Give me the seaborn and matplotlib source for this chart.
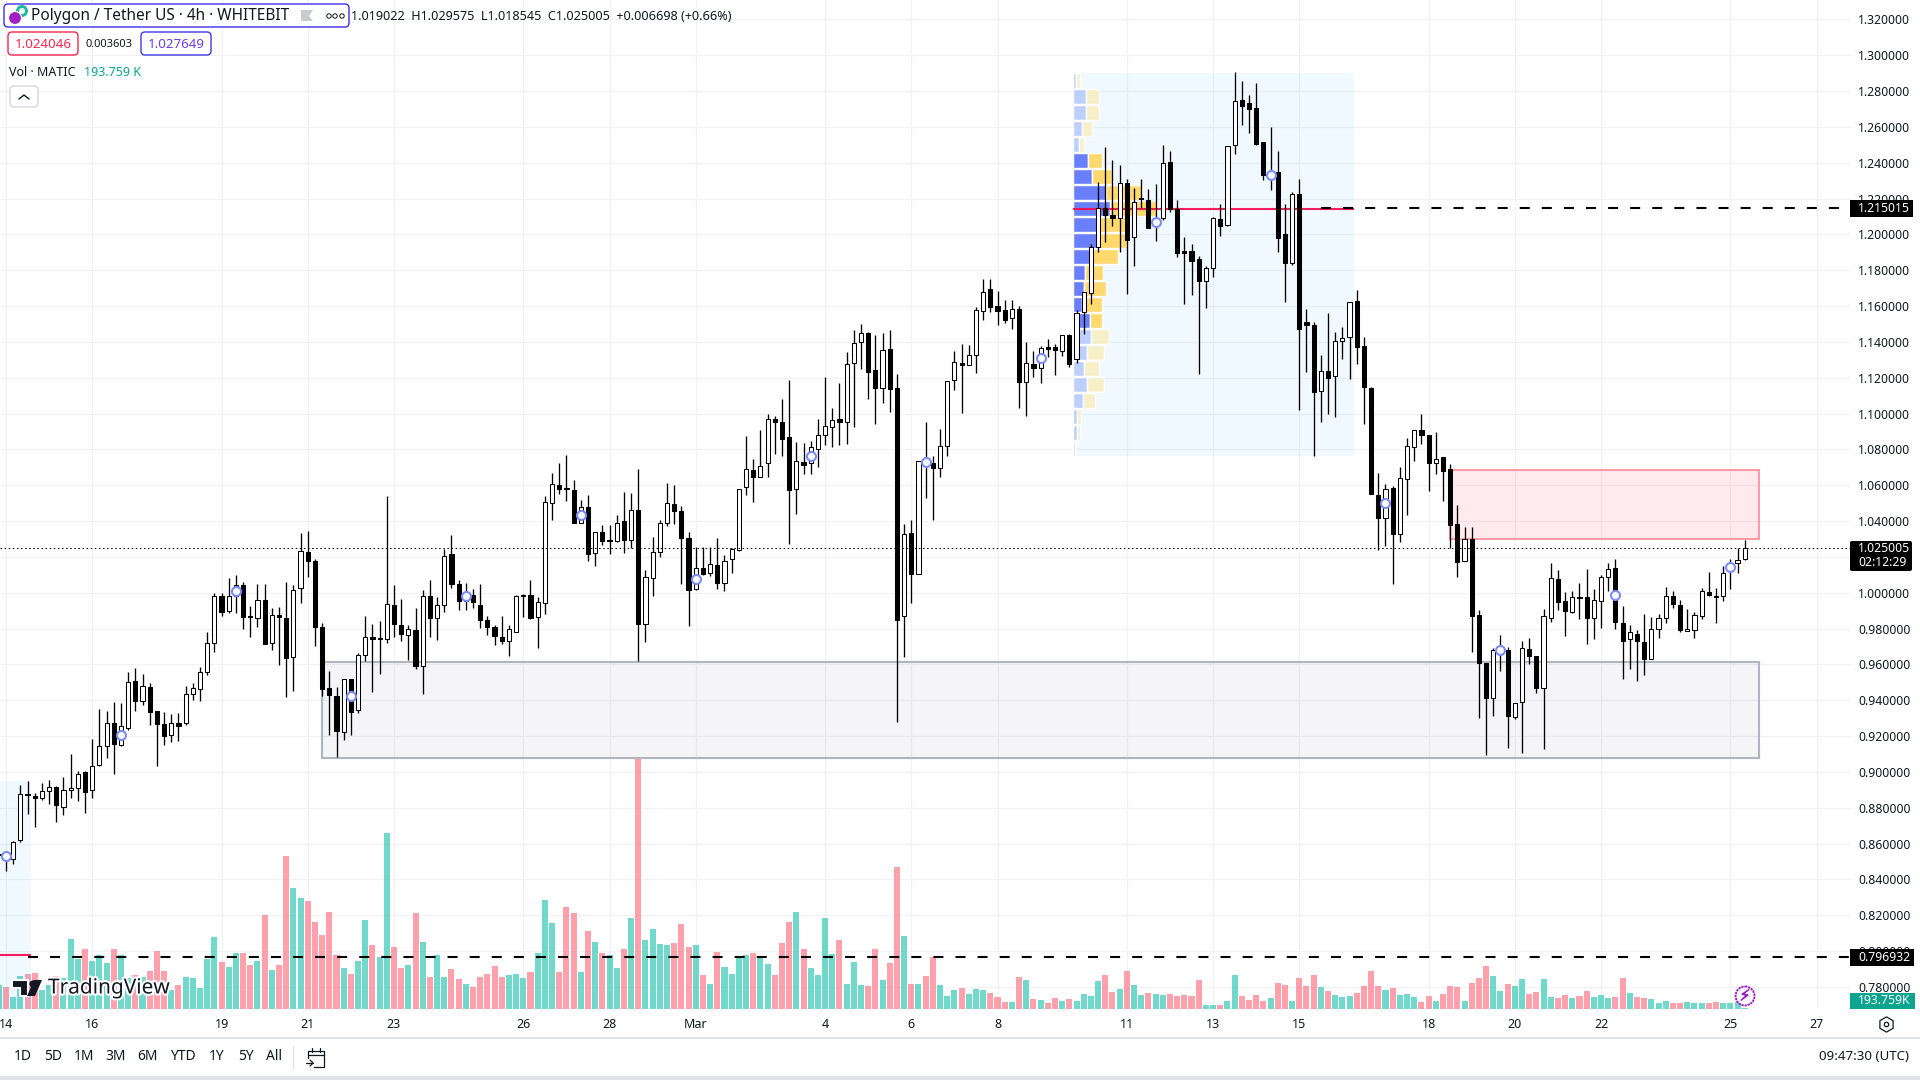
import numpy as np
import pandas as pd
import seaborn as sns
import matplotlib
matplotlib.use("Agg")
import matplotlib.pyplot as plt
from matplotlib.patches import Rectangle, FancyBboxPatch, Polygon, Circle
import matplotlib.patheffects as pe

# candles, 4h bars, bar 0 = Feb 14 00:00
bar_open = [0.8540,
    .8518,.8514,.8618,.8877,.8865,.8852,.8891,.8918,.8804,.8897,
    .8910,.8999,.8897,.9037,.9143,.9273,.9152,.9243,.9507,.9394,
    .9474,.9340,.9267,.9206,.9273,.9271,.9435,.9462,.9556,.9719,
    .9981,.9896,.9980,1.0043,.9865,.9859,.9959,.9717,.9875,.9859,
    .9639,1.0024,1.0229,1.0179,.9808,.9468,.9423,.9223,.9518,.9343,
    .9652,.9753,.9742,.9741,.9931,.9818,.9764,.9792,.9591,.9981,
    .9859,.9931,1.0216,1.0050,.9955,.9987,.9933,.9849,.9810,.9755,
    .9729,.9781,.9981,.9987,.9864,.9942,1.0500,1.0601,1.0579,1.0573,
    1.0387,1.0478,1.0220,1.0339,1.0289,1.0287,1.0400,1.0292,1.0461,.9823,
    1.0082,1.0227,1.0389,1.0495,1.0458,1.0307,1.0021,1.0138,1.0110,1.0154,
    1.0054,1.0188,1.0238,1.0590,1.0685,1.0646,1.0727,1.0969,1.0954,1.0871,
    1.0577,1.0729,1.0722,1.0805,1.0878,1.0923,1.0969,1.0956,1.1282,1.1399,
    1.1449,1.1243,1.1142,1.1360,1.1142,.9868,1.0333,1.0102,1.0733,1.0724,
    1.0696,1.0822,1.1187,1.1282,1.1271,1.1326,1.1575,1.1695,1.1602,1.1579,
    1.1531,1.1583,1.1176,1.1276,1.1257,1.1371,1.1371,1.1352,1.1438,1.1304,
    1.1570,1.1672,1.1929,1.2146,1.2109,1.2094,1.2286,1.1984,1.2197,1.2191,
    1.2050,1.2090,1.2403,1.2141,1.1906,1.1906,1.1862,1.1739,1.1812,1.2085,
    1.2055,1.2498,1.2749,1.2732,1.2704,1.2515,1.2328,1.2347,1.2001,1.1838,
    1.2224,1.1512,1.1494,1.1125,1.1237,1.1209,1.1408,1.1425,1.1627,1.1378,
    1.1142,1.0547,1.0415,1.0586,1.0326,1.0634,1.0813,1.0908,1.0880,1.0727,
    1.0757,1.0690,1.0383,1.0175,1.0300,.9877,.9610,.9410,.9670,.9680,
    .9305,.9390,.9686,.9647,.9466,.9857,1.0077,.9954,.9894,.9974,
    .9976,.9859,.9954,1.0087,1.0138,.9831,.9741,.9771,.9727,.9630,
    .9797,.9859,.9981,.9931,.9786,.9792,.9870,1.0004,.9981,.9981,
    1.0125,1.0164,1.019022]
bar_close = [0.8535,
    .8542,.8609,.8877,.8869,.8852,.8893,.8916,.8813,.8899,.8910,
    .8988,.8886,.9033,.9144,.9273,.9154,.9254,.9502,.9394,.9479,
    .9332,.9265,.9198,.9273,.9254,.9435,.9466,.9557,.9719,.9981,
    .9890,.9981,1.0043,.9862,.9862,.9959,.9712,.9875,.9862,.9634,
    1.0015,1.0233,1.0175,.9807,.9464,.9427,.9226,.9518,.9332,.9652,
    .9753,.9741,.9740,.9937,.9823,.9769,.9795,.9589,.9981,.9857,
    .9930,1.0205,1.0047,.9952,1.0002,.9946,.9846,.9807,.9756,.9729,
    .9797,.9981,.9980,.9861,.9948,1.0506,1.0606,1.0577,1.0578,1.0387,
    1.0478,1.0218,1.0337,1.0287,1.0288,1.0389,1.0292,1.0461,.9823,1.0088,
    1.0227,1.0389,1.0500,1.0454,1.0303,1.0013,1.0138,1.0104,1.0160,1.0052,
    1.0180,1.0244,1.0582,1.0690,1.0644,1.0707,1.0969,1.0954,1.0859,1.0575,
    1.0735,1.0711,1.0815,1.0880,1.0930,1.0964,1.0954,1.1276,1.1393,1.1449,
    1.1235,1.1142,1.1354,1.1135,.9849,1.0327,1.0106,1.0735,1.0735,1.0694,
    1.0818,1.1181,1.1287,1.1269,1.1326,1.1577,1.1680,1.1594,1.1574,1.1523,
    1.1583,1.1174,1.1282,1.1252,1.1365,1.1362,1.1356,1.1438,1.1278,1.1560,
    1.1678,1.1929,1.2146,1.2111,1.2094,1.2286,1.1971,1.2180,1.2196,1.2038,
    1.2085,1.2397,1.2141,1.1899,1.1899,1.1854,1.1743,1.1812,1.2091,1.2050,
    1.2492,1.2743,1.2719,1.2702,1.2507,1.2334,1.2350,1.1983,1.1838,1.2224,
    1.1471,1.1497,1.1123,1.1237,1.1201,1.1404,1.1421,1.1622,1.1374,1.1146,
    1.0553,1.0420,1.0580,1.0326,1.0640,1.0818,1.0908,1.0882,1.0727,1.0746,
    1.0677,1.0379,1.0169,1.0300,.9872,.9610,.9414,.9680,.9691,.9314,
    .9384,.9691,.9649,.9470,.9870,1.0082,.9950,.9896,.9976,.9973,
    .9857,.9959,1.0087,1.0132,.9835,.9732,.9780,.9729,.9628,.9797,
    .9857,.9981,.9937,.9790,.9800,.9875,1.0009,.9985,.9974,1.0110,
    1.0150,1.0182,1.025005]
bar_high = [0.8560,
    .8552,.8614,.8929,.8951,.8884,.8940,.8957,.8923,.8973,.9102,
    .9005,.9007,.9185,.9353,.9342,.9392,.9386,.9557,.9580,.9548,
    .9498,.9340,.9336,.9325,.9330,.9481,.9498,.9587,.9783,.9998,
    .9998,1.0084,1.0101,1.0060,.9928,1.0050,1.0050,.9916,.9922,1.0061,
    1.0045,1.0335,1.0346,1.0190,.9831,.9565,.9474,.9518,.9518,.9663,
    .9872,.9827,.9844,1.0541,1.0045,.9967,.9821,.9916,1.0017,1.0073,
    .9978,1.0246,1.0324,1.0073,1.0056,1.0022,1.0050,.9868,.9822,.9872,
    .9822,.9989,.9995,1.0073,.9976,1.0541,1.0670,1.0725,1.0770,1.0629,
    1.0519,1.0545,1.0337,1.0380,1.0380,1.0435,1.0564,1.0558,1.0692,1.0128,
    1.0310,1.0404,1.0614,1.0603,1.0486,1.0340,1.0257,1.0257,1.0257,1.0307,
    1.0212,1.0251,1.0582,1.0876,1.0748,1.0910,1.0997,1.0988,1.1083,1.1189,
    1.0841,1.0835,1.0848,1.0971,1.1205,1.1032,1.1172,1.1345,1.1468,1.1501,
    1.1455,1.1440,1.1449,1.1468,1.1220,1.0385,1.0407,1.0735,1.0954,1.0765,
    1.0915,1.1181,1.1350,1.1390,1.1382,1.1594,1.1752,1.1752,1.1683,1.1633,
    1.1635,1.1598,1.1401,1.1350,1.1378,1.1417,1.1390,1.1438,1.1445,1.1579,
    1.1678,1.1947,1.2293,1.2489,1.2416,1.2388,1.2310,1.2260,1.2310,1.2254,
    1.2282,1.2500,1.2466,1.2193,1.1986,1.1947,1.1880,1.1825,1.2098,1.2170,
    1.2492,1.2905,1.2855,1.2779,1.2846,1.2515,1.2600,1.2466,1.2170,1.2237,
    1.2310,1.1585,1.1512,1.1328,1.1562,1.1456,1.1484,1.1622,1.1691,1.1428,
    1.1146,1.0668,1.0608,1.0597,1.0703,1.0865,1.0908,1.0999,1.0882,1.0898,
    1.0757,1.0720,1.0491,1.0368,1.0368,.9905,.9610,.9691,.9766,.9697,
    .9384,.9732,.9749,.9647,.9911,1.0167,1.0128,1.0006,1.0011,1.0056,
    1.0134,1.0022,1.0100,1.0167,1.0190,.9928,.9821,.9794,.9883,.9866,
    .9883,1.0033,1.0011,.9961,.9911,.9894,1.0028,1.0117,1.0028,1.0149,
    1.0190,1.0249,1.029575]
bar_low = [0.8530,
    .8445,.8488,.8607,.8767,.8694,.8841,.8823,.8722,.8761,.8856,
    .8839,.8772,.8856,.9031,.9079,.8990,.9146,.9236,.9342,.9371,
    .9263,.9035,.9152,.9169,.9174,.9263,.9403,.9397,.9543,.9671,
    .9868,.9888,.9888,.9799,.9755,.9810,.9712,.9682,.9598,.9420,
    .9453,.9944,1.0089,.9704,.9425,.9208,.9085,.9180,.9208,.9327,
    .9621,.9448,.9548,.9721,.9755,.9730,.9626,.9576,.9436,.9755,
    .9738,.9894,1.0028,.9905,.9905,.9916,.9803,.9762,.9706,.9714,
    .9645,.9781,.9864,.9855,.9690,.9883,1.0407,1.0553,1.0513,1.0387,
    1.0387,1.0179,1.0151,1.0268,1.0218,1.0281,1.0223,1.0249,.9620,.9723,
    .9980,1.0197,1.0374,1.0385,1.0050,.9816,1.0013,1.0099,1.0091,1.0022,
    1.0011,1.0112,1.0233,1.0547,1.0508,1.0646,1.0644,1.0774,1.0765,1.0274,
    1.0441,1.0664,1.0664,1.0703,1.0826,1.0815,1.0824,1.0832,1.0926,1.1250,
    1.1083,1.0943,1.1060,1.1010,.9280,.9643,.9944,1.0102,1.0530,1.0407,
    1.0647,1.0765,1.1133,1.1004,1.1271,1.1228,1.1520,1.1568,1.1495,1.1507,
    1.1473,1.1032,1.0988,1.1205,1.1172,1.1317,1.1217,1.1323,1.1263,1.1285,
    1.1447,1.1613,1.1903,1.1958,1.2048,1.1903,1.1668,1.1825,1.2146,1.2038,
    1.1964,1.2081,1.2128,1.1877,1.1613,1.1663,1.1222,1.1590,1.1763,1.1992,
    1.2050,1.2449,1.2611,1.2567,1.2502,1.2304,1.2249,1.1903,1.1624,1.1830,
    1.1021,1.1233,1.0764,1.0954,1.0999,1.0982,1.1306,1.1194,1.1278,1.0943,
    1.0553,1.0240,1.0262,1.0050,1.0285,1.0435,1.0737,1.0831,1.0569,1.0664,
    1.0513,1.0249,1.0089,1.0175,.9671,.9303,.9096,.9314,.9565,.9135,
    .9297,.9107,.9604,.9442,.9130,.9838,.9905,.9760,.9888,.9855,
    .9715,.9743,.9805,1.0011,.9799,.9520,.9576,.9509,.9543,.9630,
    .9749,.9833,.9916,.9782,.9786,.9749,.9855,.9980,.9833,.9955,
    1.0022,1.0112,1.018545]
# volume in millions of MATIC, same bars as above
volume = [3.60,
    3.30,1.80,4.95,5.25,5.40,2.85,3.60,4.95,4.65,10.50,
    7.50,9.00,7.20,8.10,6.90,9.00,8.10,4.65,5.10,4.80,
    5.70,8.70,5.70,2.85,3.60,4.80,4.65,3.15,7.50,10.80,
    7.05,6.30,8.40,8.40,6.60,7.20,14.10,5.85,6.60,22.95,
    18.15,16.65,16.20,13.05,11.10,14.55,8.10,6.15,5.25,7.20,
    13.35,9.60,7.80,26.40,9.30,6.15,6.60,14.40,10.05,4.80,
    8.10,4.80,6.00,4.50,3.75,3.30,4.80,5.25,6.45,4.80,
    5.10,5.25,4.65,5.55,8.40,16.35,12.90,5.55,15.30,14.40,
    5.55,11.70,10.05,8.40,8.10,6.15,9.00,13.65,37.65,10.35,
    12.00,9.75,9.60,9.90,12.75,9.30,9.60,5.10,3.75,8.55,
    6.30,5.25,7.80,8.10,8.40,7.80,6.75,5.10,9.90,13.05,
    14.55,9.00,6.15,5.10,13.65,8.25,10.35,3.75,7.05,3.60,
    3.45,9.00,4.35,6.90,21.30,10.95,3.75,3.75,4.95,7.80,
    3.60,1.95,2.85,3.15,2.25,3.00,2.85,2.40,1.80,1.05,
    1.05,4.80,4.35,1.50,1.35,0.90,1.65,1.20,1.50,1.20,
    2.25,1.95,4.20,5.10,2.55,3.00,5.70,3.60,2.10,2.40,
    2.25,2.10,2.25,1.95,2.10,1.95,4.35,0.60,0.60,0.60,
    1.20,5.10,1.95,1.35,2.10,1.20,1.65,3.90,3.60,1.20,
    4.65,3.45,5.10,3.30,2.70,2.10,1.80,1.95,2.40,3.45,
    5.70,3.45,2.85,3.15,2.10,2.25,1.80,1.05,1.95,1.20,
    2.25,3.45,3.30,1.20,3.90,4.65,6.45,4.95,2.70,3.75,
    3.45,4.50,2.25,2.55,4.50,1.80,1.65,2.10,1.65,1.95,
    2.70,1.80,2.10,1.65,1.80,4.65,2.40,1.80,1.65,1.50,
    0.90,1.20,0.90,0.90,1.05,0.90,0.90,0.90,1.05,0.90,
    0.90,1.05,0.193759]
volume_side = ("T" "RTTRRTTRTT" "TRTTTRTTRT" "RRRTRTTTTT" "RTTRRTRTRR" "TTRRRRRTRT"
               "TRTTRRTRTR" "TTRRTRRRRR" "TTTRTTTRRR" "TRTRTTRTRT" "TTTRRRTRTR"
               "TTTTRTTRRR" "TRTTTTRTTT" "RRTRRTRTRR" "TTTRTTTRRR" "TRTRTRRTRT"
               "TTTRRTRTTR" "TTRRRRRTTR" "TTRRRRTRRT" "RRRTRTTTRR" "RRTRTTTRRT"
               "RRRTRRRTTR" "TTRRTTRRTR" "RTTTRRTRRT" "TTRRTTTRRT" "TTT")

price_ticks = [1.32,1.30,1.28,1.26,1.24,1.22,1.20,1.18,1.16,1.14,1.12,1.10,1.08,1.06,
               1.04,1.02,1.00,.98,.96,.94,.92,.90,.88,.86,.84,.82,.80,.78]
date_ticks = [0,12,30,42,54,72,84,96,114,126,138,156,168,180,198,210,222,240,252]
date_labels = ["14","16","19","21","23","26","28","Mar","4","6","8","11","13","15","18","20","22","25","27"]

# markers that sit on every 16th bar
event_bar = [0,16,32,48,64,80,96,112,128,144,160,176,192,208,224,240]
event_price = [.8529,.9204,1.0009,.9422,.9980,1.0432,1.0076,1.0766,1.0729,1.1308,
               1.2068,1.2334,1.0499,.9680,.9985,1.0143]

# volume profile rows, top to bottom
vp_price = [1.2860,1.2771,1.2682,1.2592,1.2503,1.2414,1.2325,1.2235,1.2146,1.2057,1.1967,1.1878,
            1.1789,1.1700,1.1610,1.1521,1.1432,1.1342,1.1253,1.1164,1.1075,1.0985,1.0896,1.0807]
vp_up = [9,39,39,27,18,45,57,99,111,73,72,51,36,33,27,51,54,42,33,42,30,12,12,6]
vp_down = [12,39,39,30,15,42,60,108,140,85,90,84,54,66,60,36,54,51,45,51,36,12,9,3]
vp_value_area = [0,0,0,0,0,1,1,1,1,1,1,1,1,1,1,1,0,0,0,0,0,0,0,0]

sns.set_theme(style="white")
plt.rcParams['font.family'] = ['Noto Sans', 'DejaVu Sans']
text_col = "#131722"
teal, red = "#1fc4ad", "#ff6b7c"

bars = pd.DataFrame({"bar": np.arange(-1, 243), "open": bar_open, "high": bar_high, "low": bar_low,
                     "close": bar_close, "volume": volume, "side": list(volume_side)})

fig = plt.figure(figsize=(19.2, 10.8), dpi=100, facecolor="white")
pos = [0, 71/1080, 1850/1920, 1009/1080]
ax_price = fig.add_axes(pos, zorder=0)
ax_vol = fig.add_axes(pos, zorder=1)
ax = fig.add_axes(pos, zorder=2)
ui = fig.add_axes([0, 0, 1, 1], zorder=3)

xlim = (-0.835, 256.65)
ylim = (0.76766, 1.33088)

# grid and axis labels live on the bottom axes, 1.02 sits under the price tag
ax_price.set_xlim(xlim)
ax_price.set_ylim(ylim)
ax_price.yaxis.tick_right()
ax_price.set_yticks(price_ticks)
ax_price.set_yticklabels(["" if p == 1.02 else "%.6f" % p for p in price_ticks], fontsize=8.8, color=text_col)
ax_price.set_xticks(date_ticks)
ax_price.set_xticklabels(date_labels, fontsize=9, color=text_col)
ax_price.get_xticklabels()[7].set_fontweight("bold")
ax_price.tick_params(axis="both", length=0)
ax_price.tick_params(axis="y", pad=5.8)
ax_price.tick_params(axis="x", pad=6.2)
ax_price.grid(True, color="#f0f2f6", lw=0.9)
for s in ax_price.spines.values():
    s.set_visible(False)

# volume
sns.barplot(data=bars, x="bar", y="volume", hue="side", palette={"T": teal, "R": red}, native_scale=True,
            dodge=False, width=0.84, gap=0, saturation=1, errorbar=None, legend=False, alpha=0.63,
            linewidth=0, ax=ax_vol)
ax_vol.set_xlim(xlim)
ax_vol.set_ylim(0, 151.35)
ax_vol.axis("off")

ax.set_xlim(xlim)
ax.set_ylim(ylim)
ax.axis("off")

# zones
ax.add_patch(Rectangle((44, 0.9079), 200, 0.9615-0.9079, fc=(0.47, 0.48, 0.62, 0.07), ec="#b2b5be", lw=1.5, zorder=1))
ax.add_patch(Rectangle((201, 1.0301), 43, 1.0686-1.0301, fc=(1.0, 0.2, 0.32, 0.10), ec="#ff9aa6", lw=1.5, zorder=1))
ax.add_patch(Rectangle((148.5, 1.0764), 39.1, 1.2901-1.0764, fc=(0.16, 0.66, 1.0, 0.065), ec="none", zorder=1))
ax.add_patch(Rectangle((-1, 0.76), 4.5, 0.8951-0.76, fc=(0.16, 0.66, 1.0, 0.065), ec="none", zorder=1))

# volume profile
vp_total = np.array(vp_up) + np.array(vp_down)
vp_scale = 0.298 * 39.1 / vp_total.max()
for p, u, d, va in zip(vp_price, vp_up, vp_down, vp_value_area):
    ax.barh(p, u*vp_scale, height=0.0084, left=148.5, color="#6a7ffb" if va else "#bdd0fd", zorder=1.5)
    ax.barh(p, d*vp_scale, height=0.0084, left=148.5+u*vp_scale, color="#ffd86e" if va else "#f6efc8", zorder=1.5)

# poc lines
ax.plot([148.5, 187.6], [1.2143, 1.2143], color="#f50a4f", lw=1.5, alpha=0.92, zorder=2, solid_capstyle="butt")
ax.plot([-1, 3.5], [0.7976, 0.7976], color="#f50a4f", lw=1.5, alpha=0.92, zorder=2, solid_capstyle="butt")

# candles
ax.vlines(bars["bar"], bars["low"], bars["high"], color="black", lw=0.95, zorder=3)
body_bottom = bars[["open", "close"]].min(axis=1)
body_height = (bars["close"] - bars["open"]).abs().clip(lower=0.0006)
body_col = ["white" if c >= o else "black" for o, c in zip(bar_open, bar_close)]
ax.bar(bars["bar"], body_height, bottom=body_bottom, width=0.58, color=body_col, edgecolor="black", lw=0.75, zorder=4)

# horizontal rays and current price
ax.plot([183, xlim[1]], [1.215015]*2, color="black", lw=1.5, dashes=(4.8, 5.8), dash_capstyle="butt", zorder=5)
ax.plot([3.1, xlim[1]], [0.796932]*2, color="black", lw=1.5, dashes=(4.8, 5.8), dash_capstyle="butt", zorder=5)
ax.plot(xlim, [1.025005]*2, color="black", lw=0.72, dashes=(1.5, 2.6), dash_capstyle="butt", zorder=5)

sns.scatterplot(x=event_bar, y=event_price, ax=ax, s=42, color="white", edgecolor="#7b8cff", linewidth=1.5,
                legend=False, zorder=6)
ax.set_xlim(xlim)
ax.set_ylim(ylim)

# everything below is the screen furniture, pixel coords
ui.set_xlim(0, 1920)
ui.set_ylim(1080, 0)
ui.axis("off")


def label(x, y, s, size=8.8, color=text_col, ha="left", **kw):
    return ui.text(x, y, s, fontsize=size, color=color, ha=ha, va="center", **kw)


def pill(x0, y0, x1, y1, ec, fc="white", lw=1.0, r=4):
    ui.add_patch(FancyBboxPatch((x0+r, y0+r), x1-x0-2*r, y1-y0-2*r, boxstyle="round,pad=%d" % r,
                                fc=fc, ec=ec, lw=lw))


ui.plot([0, 1920], [1037.5, 1037.5], color="#e0e3eb", lw=1.4)
ui.add_patch(Rectangle((0, 1076), 1920, 4, fc="#e0e3eb", ec="none"))

# legend header
pill(4, 4, 349, 27, "#3a2ee8")
ui.add_patch(Circle((22, 11), 6, fc="#1fb8a0", ec="none"))
ui.add_patch(Circle((22, 11), 3, fc="white", ec="none"))
ui.add_patch(Circle((15, 18), 6.5, fc="#a21fc4", ec="white", lw=0.8))
label(31, 16.5, "Polygon / Tether US · 4h · WHITEBIT", size=11.1)
ui.add_patch(Polygon([(301, 10), (313, 10), (309, 16), (313, 21), (301, 21)], fc="#c9cbd1", ec="none"))
for cx in (329, 335, 342):
    ui.add_patch(Circle((cx, 16), 2.2, fc="white", ec=text_col, lw=0.7))
label(351, 16.5, "1.019022  H1.029575  L1.018545  C1.025005  +0.006698 (+0.66%)", size=9.1)

pill(8, 32, 78, 55, "#f7264e")
label(43, 44.5, "1.024046", size=9.6, color="#f7264e", ha="center")
label(109, 44.5, "0.003603", size=8.0, ha="center")
pill(141, 32, 211, 55, "#3f37e8")
label(176, 44.5, "1.027649", size=9.6, color="#6a3ee8", ha="center")
label(9, 72.5, "Vol · MATIC", size=9.0)
label(84, 72.5, "193.759 K", size=9.0, color="#08a68f")
pill(10, 86, 38, 107, "#d6d8de")
ui.plot([19, 24, 29], [99, 95, 99], color=text_col, lw=1.0)

# price tags
ui.add_patch(Rectangle((1850, 200), 63, 17, fc="black", ec="none"))
label(1858, 208.5, "1.215015", color="white")
ui.add_patch(Rectangle((1850, 949), 64, 17, fc="black", ec="none"))
label(1858, 957.5, "0.796932", color="white")
ui.add_patch(FancyBboxPatch((1852, 543), 58, 26, boxstyle="round,pad=2", fc="black", ec="none"))
label(1858, 548.5, "1.025005", color="white")
label(1858, 563, "02:12:29", color="white")
ui.add_patch(Rectangle((1850, 993), 65, 16, fc="#0ba58f", ec="none"))
label(1858, 1001, "193.759K", color="white")

# bolt
ui.add_patch(Circle((1745, 996), 9.5, fc="white", ec="#9c1fc4", lw=1.4, ls=(0, (1.2, 0.4))))
ui.text(1745, 996, "\u26a1", fontsize=11, color="#9c1fc4", ha="center", va="center", family="DejaVu Sans",
        path_effects=[pe.withStroke(linewidth=0.6, foreground="#9c1fc4")])

# logo
logo = text_col
ui.add_patch(Polygon([(12, 980), (28, 980), (28, 996), (20, 996), (20, 988), (12, 988)], fc=logo, ec="white", lw=1.5))
ui.add_patch(Circle((33, 984), 3.6, fc=logo, ec="none"))
ui.add_patch(Polygon([(34, 980), (42, 980), (35, 996), (27, 996)], fc=logo, ec="none"))
label(48, 988, "TradingView", size=15, fontweight="bold", color=logo,
      path_effects=[pe.withStroke(linewidth=3, foreground="white")])

# range buttons
for x, s in zip([23, 53, 84, 116, 148, 183, 217, 246, 274], ["1D", "5D", "1M", "3M", "6M", "YTD", "1Y", "5Y", "All"]):
    label(x, 1057, s, size=10, ha="center")
ui.plot([293, 293], [1046, 1068], color="#e0e3eb", lw=1)
# calendar icon with the little arrow
ui.plot([308, 308, 324, 324, 314], [1058, 1051, 1051, 1067, 1067], color=text_col, lw=0.9)
ui.plot([308, 324], [1055, 1055], color=text_col, lw=0.9)
ui.plot([312, 312], [1048, 1052], color=text_col, lw=0.9)
ui.plot([320, 320], [1048, 1052], color=text_col, lw=0.9)
ui.plot([306, 313], [1063, 1063], color=text_col, lw=0.9)
ui.plot([310, 313, 310], [1060, 1063, 1066], color=text_col, lw=0.9)
label(1909, 1057, "09:47:30 (UTC)", size=9.6, ha="right")

# settings hexagon
ui.scatter([1886], [1024], marker="h", s=120, fc="white", ec=text_col, lw=0.9)
ui.scatter([1886], [1024], marker="o", s=10, fc="white", ec=text_col, lw=0.9)

fig.savefig("out.png", dpi=100)
